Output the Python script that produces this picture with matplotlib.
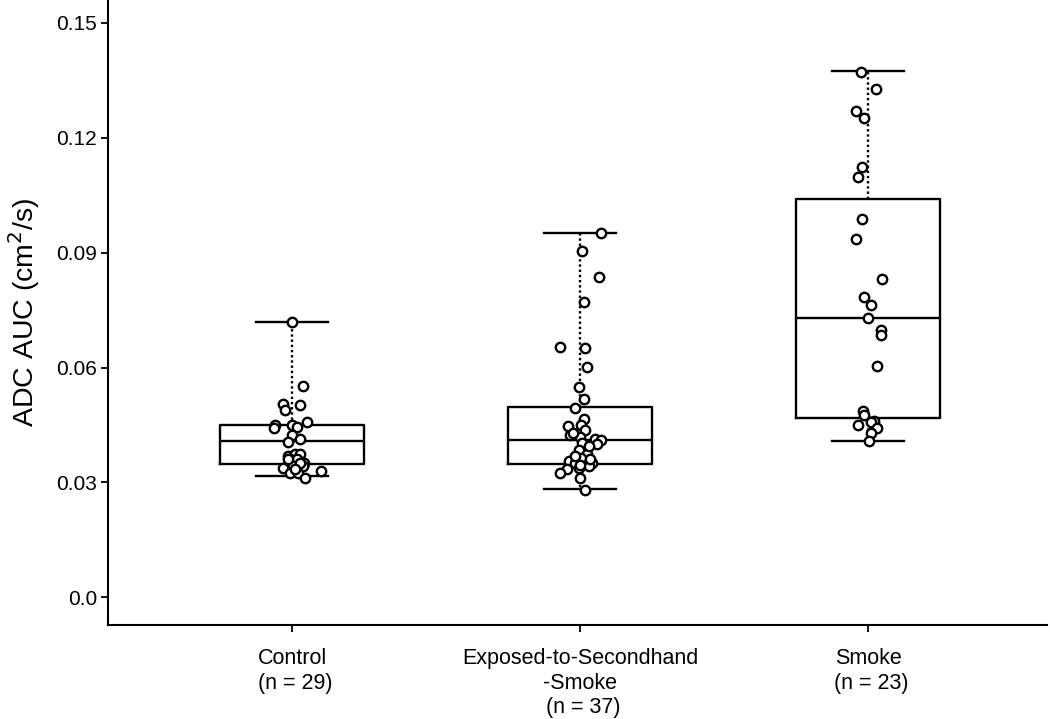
import matplotlib.pyplot as plt

plt.rcParams['font.family'] = ['Liberation Sans', 'DejaVu Sans']

# group labels
groups = ['Control\n (n = 29)', 'Exposed-to-Secondhand\n-Smoke\n (n = 37)', 'Smoke\n (n = 23)']

# box summary
q1 = [0.0349, 0.0349, 0.0469]
med = [0.0409, 0.0412, 0.0729]
q3 = [0.0449, 0.0497, 0.1041]
whis_lo = [0.0316, 0.0282, 0.0408]
whis_hi = [0.0718, 0.0951, 0.1375]

# individual points: value and horizontal jitter
control_y = [0.0718, 0.0553, 0.0506, 0.0488, 0.0503, 0.0451, 0.0443, 0.0449, 0.0445,
             0.0457, 0.0423, 0.0405, 0.0414, 0.0370, 0.0373, 0.0373, 0.0360, 0.0362,
             0.0351, 0.0338, 0.0344, 0.0343, 0.0330, 0.0324, 0.0325, 0.0312, 0.0360,
             0.0351, 0.0334]
control_jit = [0.0, 0.038, -0.034, -0.025, 0.028, -0.060, -0.064, -0.002, 0.015,
               0.052, -0.002, -0.014, 0.027, -0.014, 0.009, 0.027, -0.008, 0.015,
               0.041, -0.034, 0.003, 0.038, 0.098, -0.008, 0.021, 0.044, -0.017,
               0.027, 0.009]

exposed_y = [0.0951, 0.0904, 0.0836, 0.0770, 0.0653, 0.0650, 0.0602, 0.0549, 0.0518,
             0.0495, 0.0466, 0.0447, 0.0451, 0.0438, 0.0425, 0.0419, 0.0414, 0.0412,
             0.0399, 0.0404, 0.0384, 0.0375, 0.0364, 0.0356, 0.0351, 0.0350, 0.0344,
             0.0338, 0.0334, 0.0324, 0.0312, 0.0280, 0.0430, 0.0395, 0.0370, 0.0360,
             0.0345]
exposed_jit = [0.070, 0.006, 0.064, 0.014, -0.070, 0.017, 0.023, -0.006, 0.012,
               -0.017, 0.014, -0.044, 0.002, 0.017, -0.035, -0.002, 0.052, 0.072,
               0.056, 0.006, -0.006, 0.023, 0.002, -0.038, -0.017, 0.041, 0.029,
               -0.006, -0.047, -0.070, -0.002, 0.017, -0.025, 0.030, -0.020, 0.035,
               0.000]

smoke_y = [0.1373, 0.1327, 0.1271, 0.1251, 0.1124, 0.1098, 0.0988, 0.0936, 0.0830,
           0.0785, 0.0764, 0.0729, 0.0699, 0.0684, 0.0605, 0.0486, 0.0477, 0.0460,
           0.0457, 0.0449, 0.0443, 0.0428, 0.0408]
smoke_jit = [-0.027, 0.025, -0.044, -0.015, -0.021, -0.035, -0.023, -0.044, 0.049,
             -0.015, 0.008, 0.0, 0.043, 0.045, 0.029, -0.018, -0.015, 0.020,
             0.008, -0.035, 0.031, 0.008, 0.002]

points_y = [control_y, exposed_y, smoke_y]
points_jit = [control_jit, exposed_jit, smoke_jit]

fig = plt.figure(figsize=(10.5, 7.19), dpi=100)
ax = fig.add_axes([0.103, 0.131, 0.894, 0.869])

stats = []
for i in range(3):
    stats.append({'med': med[i], 'q1': q1[i], 'q3': q3[i],
                  'whislo': whis_lo[i], 'whishi': whis_hi[i], 'fliers': []})

ax.bxp(stats, positions=[1, 2, 3], widths=0.5, capwidths=0.25, showfliers=False,
       boxprops=dict(color='black', linewidth=1.7),
       medianprops=dict(color='black', linewidth=1.7),
       whiskerprops=dict(color='black', linewidth=1.7, linestyle=(0, (1, 1.2))),
       capprops=dict(color='black', linewidth=1.7))

for i in range(3):
    xs = [i + 1 + j for j in points_jit[i]]
    ax.scatter(xs, points_y[i], s=46, facecolor='white', edgecolor='black',
               linewidth=1.7, zorder=5)

ax.set_xlim(0.36, 3.62)
ax.set_ylim(-0.0072, 0.156)
ax.set_yticks([0.0, 0.03, 0.06, 0.09, 0.12, 0.15])
ax.set_yticklabels(['0.0', '0.03', '0.06', '0.09', '0.12', '0.15'])
ax.set_xticks([1, 2, 3])
ax.set_xticklabels(groups, multialignment='center', linespacing=1.2)

ax.tick_params(axis='y', labelsize=15, width=1.3, length=5, pad=3)
ax.tick_params(axis='x', labelsize=15.5, width=1.3, length=5, pad=12)
ax.set_ylabel('ADC AUC (cm$^2$/s)', fontsize=20.5, labelpad=10)

ax.spines['top'].set_visible(False)
ax.spines['right'].set_visible(False)
ax.spines['left'].set_linewidth(1.5)
ax.spines['bottom'].set_linewidth(1.5)

fig.savefig('out.png', dpi=100)
